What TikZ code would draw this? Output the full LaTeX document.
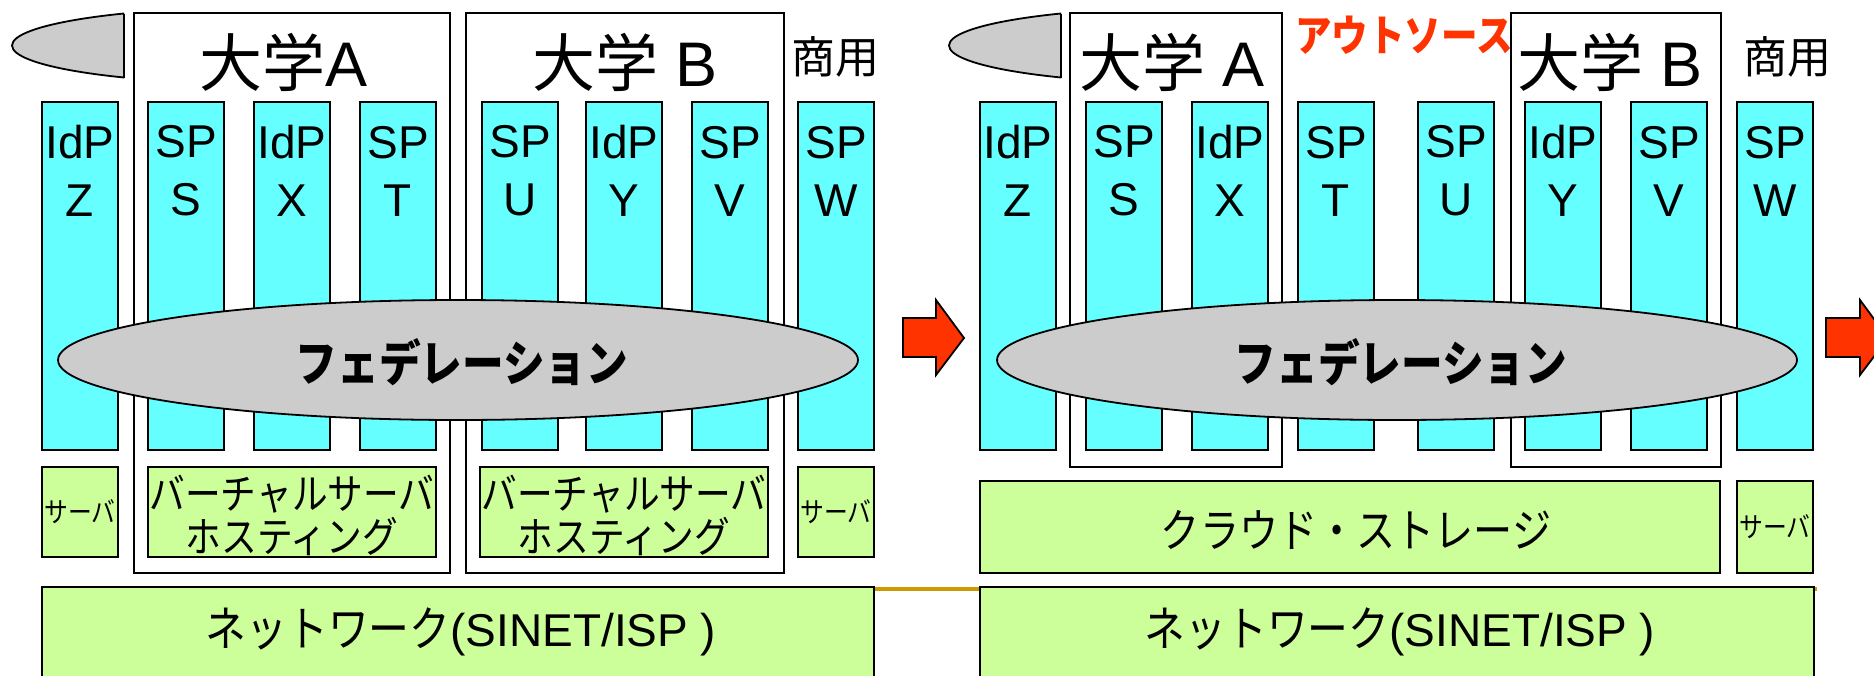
\documentclass[tikz,border=0pt]{standalone}
\usepackage{fontspec}
\setmainfont{Liberation Sans}
\newfontfamily\jp{Noto Sans CJK JP}
\newfontfamily\jk[FakeStretch=0.85]{Noto Sans CJK JP}
\usetikzlibrary{shapes.geometric}
\definecolor{cyanc}{HTML}{66FFFF}
\definecolor{greenc}{HTML}{CCFF99}
\definecolor{grayc}{HTML}{CCCCCC}
\definecolor{redc}{HTML}{FF3300}
\definecolor{goldc}{HTML}{CC9900}
\begin{document}
\begin{tikzpicture}[x=1pt,y=-1pt,
  every node/.style={inner sep=0pt, outer sep=0pt},
  bar/.style={draw=black, line width=1.8pt, fill=cyanc, minimum width=76pt, minimum height=348pt, anchor=north west},
  ubox/.style={draw=black, line width=1.6pt, fill=white, anchor=north west},
  gbox/.style={draw=black, line width=1.8pt, fill=greenc, anchor=north west},
  fed/.style={ellipse, draw=black, line width=1.8pt, fill=grayc, minimum width=800pt, minimum height=120pt},
  barlbl/.style={font=\fontsize{46}{58}\selectfont, align=center},
  unilbl/.style={font=\fontsize{63}{70}\selectfont},
  comlbl/.style={font=\jp\fontsize{44}{50}\selectfont},
  fedlbl/.style={font=\jk\bfseries\fontsize{49}{55}\selectfont},
  vlbl/.style={font=\jk\fontsize{42}{43}\selectfont, align=center},
  slbl/.style={font=\jk\fontsize{28}{30}\selectfont},
  netlbl/.style={font=\fontsize{46}{50}\selectfont},
  cutshape/.style={draw=black, line width=1.8pt, fill=grayc},
  redarrow/.style={draw=black, line width=1.8pt, fill=redc, line join=miter},
]
\useasboundingbox (0,0) rectangle (1874,675);
\clip (0,0) rectangle (1874,675);

% ---------------- left panel ----------------
\node[ubox, minimum width=316pt, minimum height=560pt] (uA1) at (134,13) {};
\node[ubox, minimum width=318pt, minimum height=560pt] (uB1) at (466,13) {};

\node[bar] (bZ1) at (42,102) {};
\node[bar] (bS1) at (148,102) {};
\node[bar] (bX1) at (254,102) {};
\node[bar] (bT1) at (360,102) {};
\node[bar] (bU1) at (482,102) {};
\node[bar] (bY1) at (586,102) {};
\node[bar] (bV1) at (692,102) {};
\node[bar] (bW1) at (798,102) {};

\node[gbox, minimum width=76pt, minimum height=90pt] (gs1) at (42,467) {};
\node[gbox, minimum width=288pt, minimum height=90pt] (gv1) at (148,467) {};
\node[gbox, minimum width=288pt, minimum height=90pt] (gv2) at (480,467) {};
\node[gbox, minimum width=76pt, minimum height=90pt] (gs2) at (798,467) {};

% ---------------- right panel ----------------
\node[ubox, minimum width=212pt, minimum height=454pt] (uA2) at (1070,13) {};
\node[ubox, minimum width=210pt, minimum height=454pt] (uB2) at (1511,13) {};

\node[bar] (bZ2) at (980,102) {};
\node[bar] (bS2) at (1086,102) {};
\node[bar] (bX2) at (1192,102) {};
\node[bar] (bT2) at (1298,102) {};
\node[bar] (bU2) at (1418,102) {};
\node[bar] (bY2) at (1525,102) {};
\node[bar] (bV2) at (1631,102) {};
\node[bar] (bW2) at (1737,102) {};

\node[gbox, minimum width=740pt, minimum height=92pt] (cloud) at (980,481) {};
\node[gbox, minimum width=76pt, minimum height=92pt] (gs3) at (1737,481) {};

% ---------------- network ----------------
\coordinate (n1ne) at (874,589);
\coordinate (n2end) at (1817,589);
\draw[goldc, line width=3.5pt] (n1ne) -- (n2end);
\node[gbox, minimum width=832pt, minimum height=90pt] (n1) at (42,587) {};
\node[gbox, minimum width=834pt, minimum height=90pt] (n2) at (980,587) {};
\node[netlbl] (tn1) at (461,632) {{\jk\fontsize{48}{50}\selectfont ネットワーク}(SINET/ISP )};
\node[netlbl] (tn2) at (1400,632) {{\jk\fontsize{48}{50}\selectfont ネットワーク}(SINET/ISP )};

% ---------------- federation ----------------
\node[fed] (f1) at (458,360) {};
\node[fed] (f2) at (1397,360) {};
\node[fedlbl] (tf1) at (462,362) {フェデレーション};
\node[fedlbl] (tf2) at (1401,362) {フェデレーション};

% ---------------- cut grey shapes ----------------
\begin{scope}
  \clip (0,0) rectangle (124,100);
  \draw[cutshape] (255,45.5) ellipse [x radius=243, y radius=38];
\end{scope}
\draw[line width=1.8pt] (124,13.5) -- (124,77.5);
\begin{scope}
  \clip (900,0) rectangle (1061,100);
  \draw[cutshape] (1192,45.5) ellipse [x radius=243, y radius=38];
\end{scope}
\draw[line width=1.8pt] (1061,13.5) -- (1061,77.5);

% ---------------- arrows ----------------
\draw[redarrow] (903,318) -- (936,318) -- (936,300) -- (964,338) -- (936,375) -- (936,357) -- (903,357) -- cycle;
\draw[redarrow] (1826,318) -- (1860,318) -- (1860,300) -- (1888,338) -- (1860,375) -- (1860,357) -- (1826,357) -- cycle;

% ---------------- labels ----------------
\node[unilbl] (tA1) at (284,62) {{\jp 大学}A};
\node[unilbl] (tB1) at (625,62) {{\jp 大学} B};
\node[comlbl] (tc1) at (835,57) {商用};
\node[unilbl] (tA2) at (1172,62) {{\jp 大学} A};
\node[unilbl] (tB2) at (1610,62) {{\jp 大学} B};
\node[comlbl] (tc2) at (1787,57) {商用};
\node[font=\jk\bfseries\fontsize{43}{45}\selectfont, text=redc] (tout) at (1404,35) {アウトソース};

\node[barlbl] at (80,171) {IdP\\Z};
\node[barlbl] at (186,171) {SP\\S};
\node[barlbl] at (292,171) {IdP\\X};
\node[barlbl] at (398,171) {SP\\T};
\node[barlbl] at (520,171) {SP\\U};
\node[barlbl] at (624,171) {IdP\\Y};
\node[barlbl] at (730,171) {SP\\V};
\node[barlbl] at (836,171) {SP\\W};

\node[barlbl] at (1018,171) {IdP\\Z};
\node[barlbl] at (1124,171) {SP\\S};
\node[barlbl] at (1230,171) {IdP\\X};
\node[barlbl] at (1336,171) {SP\\T};
\node[barlbl] at (1456,171) {SP\\U};
\node[barlbl] at (1563,171) {IdP\\Y};
\node[barlbl] at (1669,171) {SP\\V};
\node[barlbl] at (1775,171) {SP\\W};

\node[slbl] at (gs1.center) {サーバ};
\node[slbl] at (gs2.center) {サーバ};
\node[slbl] at (gs3.center) {サーバ};
\node[vlbl] at ([yshift=-3pt]gv1.center) {バーチャルサーバ\\ホスティング};
\node[vlbl] at ([yshift=-3pt]gv2.center) {バーチャルサーバ\\ホスティング};
\node[font=\jk\fontsize{46}{50}\selectfont] at ([xshift=6pt,yshift=-3pt]cloud.center) {クラウド・ストレージ};
\end{tikzpicture}
\end{document}
